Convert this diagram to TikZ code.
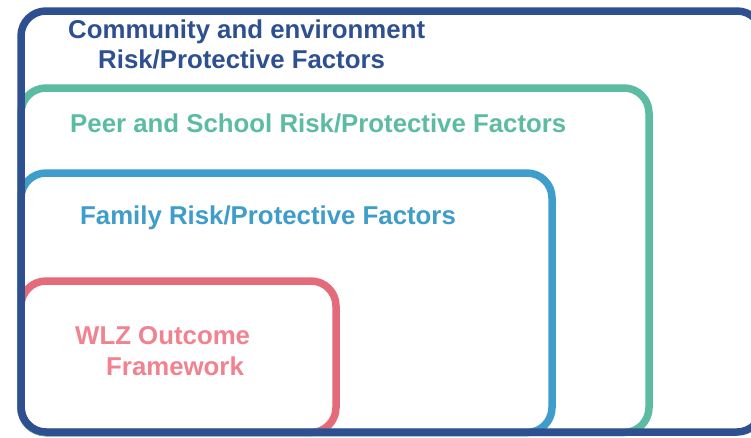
\documentclass[tikz,border=0pt]{standalone}
\usepackage{fontspec}
\setmainfont{Liberation Sans}
\definecolor{commblue}{HTML}{2E5090}
\definecolor{peergreen}{HTML}{5CBCA3}
\definecolor{famblue}{HTML}{3F9DCB}
\definecolor{wlzpink}{HTML}{E46C7A}
\definecolor{wlztext}{HTML}{F2828F}
\tikzset{
  frame/.style={line width=7.5pt, rounded corners=25pt},
  lbl/.style={anchor=base west, inner sep=0pt, font=\fontsize{25.8}{32}\selectfont\bfseries},
}
\begin{document}
\begin{tikzpicture}[x=1pt,y=-1pt]
\useasboundingbox (0,0) rectangle (751,437);
\fill[white] (0,0) rectangle (751,437);
\draw[frame, wlzpink] (21,281) rectangle (336,432.5);
\draw[frame, famblue] (21,173) rectangle (552,432.5);
\draw[frame, peergreen] (21,88) rectangle (649,432.5);
\draw[frame, commblue] (21,11) rectangle (762,432);
\node[lbl, text=commblue] (c1) at (68,38.5) {Community and environment};
\node[lbl, text=commblue] (c2) at (98,68) {Risk/Protective Factors};
\node[lbl, text=peergreen] (p) at (70,132) {Peer and School Risk/Protective Factors};
\node[lbl, text=famblue] (f) at (80,224.5) {Family Risk/Protective Factors};
\node[lbl, text=wlztext] (w1) at (75,344) {WLZ Outcome};
\node[lbl, text=wlztext] (w2) at (106,375) {Framework};
\end{tikzpicture}
\end{document}
